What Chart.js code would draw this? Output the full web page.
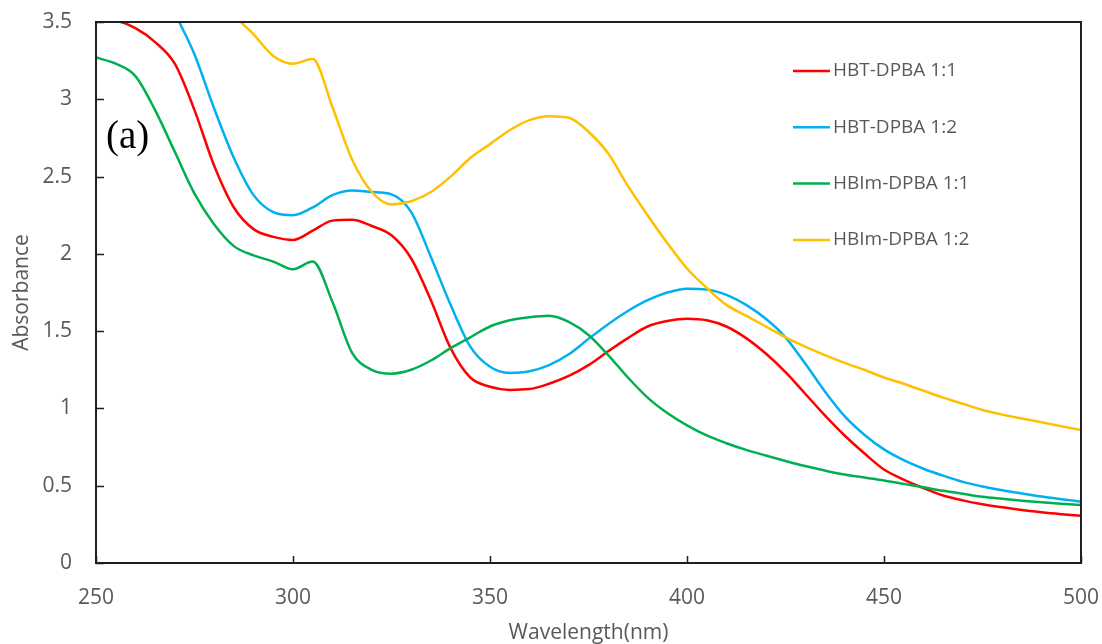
<!DOCTYPE html>
<html>
<head>
<meta charset="utf-8">
<script src="https://cdn.jsdelivr.net/npm/chart.js@4.4.1/dist/chart.umd.min.js"></script>
<style>
  html, body { margin: 0; padding: 0; background: #ffffff; }
  #wrap { width: 1102px; height: 644px; }
</style>
</head>
<body>
<div id="wrap"><canvas id="chart" width="1102" height="644"></canvas></div>
<script>
// UV-Vis absorption spectra, sampled every 5 nm
const wavelengths = [250,255,260,265,270,275,280,285,290,295,300,305,310,315,320,325,330,335,340,345,350,355,360,365,370,375,380,385,390,395,400,405,410,415,420,425,430,435,440,445,450,455,460,465,470,475,480,485,490,495,500];

const hbtDpba11 = [3.52,3.51,3.46,3.37,3.23,2.93,2.57,2.30,2.16,2.11,2.09,2.15,2.215,2.22,2.18,2.12,1.97,1.70,1.39,1.20,1.14,1.12,1.125,1.16,1.21,1.28,1.37,1.455,1.53,1.565,1.58,1.57,1.53,1.455,1.355,1.235,1.095,0.955,0.825,0.71,0.605,0.54,0.485,0.437,0.405,0.38,0.36,0.343,0.328,0.316,0.306];

const hbtDpba12 = [null,null,null,3.85,3.56,3.29,2.94,2.62,2.38,2.27,2.25,2.30,2.38,2.41,2.40,2.385,2.27,1.98,1.67,1.40,1.27,1.23,1.24,1.28,1.35,1.45,1.545,1.63,1.70,1.75,1.775,1.77,1.735,1.67,1.58,1.46,1.29,1.11,0.95,0.83,0.735,0.665,0.61,0.565,0.525,0.495,0.47,0.45,0.43,0.413,0.397];

const hbimDpba11 = [3.27,3.23,3.15,2.93,2.66,2.39,2.19,2.05,1.99,1.95,1.90,1.95,1.69,1.36,1.25,1.225,1.25,1.31,1.39,1.46,1.53,1.57,1.59,1.60,1.56,1.475,1.345,1.20,1.07,0.97,0.89,0.825,0.775,0.732,0.695,0.66,0.627,0.598,0.572,0.553,0.534,0.512,0.49,0.467,0.448,0.428,0.415,0.403,0.393,0.384,0.375];

const hbimDpba12 = [null,null,null,null,null,null,3.75,3.55,3.42,3.28,3.23,3.26,2.95,2.61,2.40,2.32,2.34,2.40,2.50,2.62,2.71,2.80,2.865,2.89,2.88,2.79,2.65,2.44,2.25,2.07,1.905,1.78,1.67,1.60,1.53,1.46,1.40,1.345,1.295,1.25,1.20,1.16,1.115,1.07,1.03,0.99,0.96,0.935,0.91,0.885,0.86];

const seriesNames = ['HBT-DPBA 1:1', 'HBT-DPBA 1:2', 'HBIm-DPBA 1:1', 'HBIm-DPBA 1:2'];
const seriesColors = ['#FF0000', '#00B0F0', '#00B050', '#FFC000'];
const xTickLabels = ['250', '300', '350', '400', '450', '500'];
const yTickLabels = ['0', '0.5', '1', '1.5', '2', '2.5', '3', '3.5'];

const seriesValues = [hbtDpba11, hbtDpba12, hbimDpba11, hbimDpba12];

const labelFont = '"Open Sans", "Noto Sans", sans-serif';
const labelColor = '#595959';
const frameColor = '#1f1f1f';

function toPoints(values) {
  return wavelengths.map((w, i) => ({ x: w, y: values[i] }));
}

// Frame around the plot, inward tick marks, panel tag and legend
const decorations = {
  id: 'decorations',
  afterDatasetsDraw(chart) {
    const { ctx, chartArea: a, scales } = chart;
    ctx.save();
    ctx.strokeStyle = frameColor;
    ctx.lineWidth = 2;
    ctx.strokeRect(a.left, a.top, a.right - a.left, a.bottom - a.top);

    ctx.lineWidth = 1.5;
    ctx.beginPath();
    scales.x.ticks.forEach(t => {
      const px = Math.round(scales.x.getPixelForValue(t.value)) + 0.5;
      ctx.moveTo(px, a.bottom);
      ctx.lineTo(px, a.bottom - 7);
    });
    scales.y.ticks.forEach(t => {
      const py = Math.round(scales.y.getPixelForValue(t.value)) + 0.5;
      ctx.moveTo(a.left, py);
      ctx.lineTo(a.left + 8, py);
    });
    ctx.stroke();

    // panel tag
    ctx.fillStyle = '#000000';
    ctx.font = '39px "Liberation Serif", "DejaVu Serif", serif';
    ctx.textAlign = 'left';
    ctx.textBaseline = 'alphabetic';
    ctx.fillText('(a)', 106, 148);

    // legend
    const lx = 793, ly = 71, step = 56.3;
    chart.data.datasets.forEach((ds, i) => {
      const y = ly + i * step;
      ctx.strokeStyle = ds.borderColor;
      ctx.lineWidth = 2.5;
      ctx.beginPath();
      ctx.moveTo(lx, y);
      ctx.lineTo(lx + 37, y);
      ctx.stroke();
      ctx.fillStyle = labelColor;
      ctx.font = '19px ' + labelFont;
      ctx.textBaseline = 'middle';
      ctx.fillText(ds.label, lx + 40, y);
    });
    ctx.restore();
  }
};

new Chart(document.getElementById('chart'), {
  type: 'line',
  data: {
    datasets: seriesValues.map((vals, i) => ({
      label: seriesNames[i],
      data: toPoints(vals),
      borderColor: seriesColors[i],
      backgroundColor: seriesColors[i],
      borderWidth: 2.5,
      pointRadius: 0,
      cubicInterpolationMode: 'monotone',
      spanGaps: false,
      order: seriesValues.length - i
    }))
  },
  options: {
    responsive: false,
    animation: false,
    events: [],
    layout: { padding: { top: 22, right: 21, left: 0, bottom: 0 } },
    plugins: { legend: { display: false }, tooltip: { enabled: false } },
    scales: {
      x: {
        type: 'linear',
        min: 250, max: 500,
        afterFit(scale) {
          scale.height = 81;
          scale.paddingLeft = 0;
          scale.paddingRight = 0;
        },
        grid: { display: false, drawTicks: false },
        border: { display: false },
        ticks: {
          stepSize: 50,
          padding: 22,
          color: labelColor,
          font: { family: labelFont, size: 21 },
          maxRotation: 0,
          autoSkip: false,
          callback: (v) => xTickLabels[Math.round((v - 250) / 50)]
        },
        title: {
          display: true,
          text: 'Wavelength(nm)',
          color: labelColor,
          font: { family: labelFont, size: 21 },
          padding: { top: 0, bottom: -2 }
        }
      },
      y: {
        min: 0, max: 3.5,
        afterFit(scale) {
          scale.width = 96;
          scale.paddingTop = 0;
          scale.paddingBottom = 0;
        },
        grid: { display: false, drawTicks: false },
        border: { display: false },
        ticks: {
          stepSize: 0.5,
          padding: 24,
          color: labelColor,
          font: { family: labelFont, size: 21 },
          callback: (v) => yTickLabels[Math.round(v / 0.5)]
        },
        title: {
          display: true,
          text: 'Absorbance',
          color: labelColor,
          font: { family: labelFont, size: 21 },
          padding: { top: 9, bottom: 0 }
        }
      }
    }
  },
  plugins: [decorations]
});
</script>
</body>
</html>
